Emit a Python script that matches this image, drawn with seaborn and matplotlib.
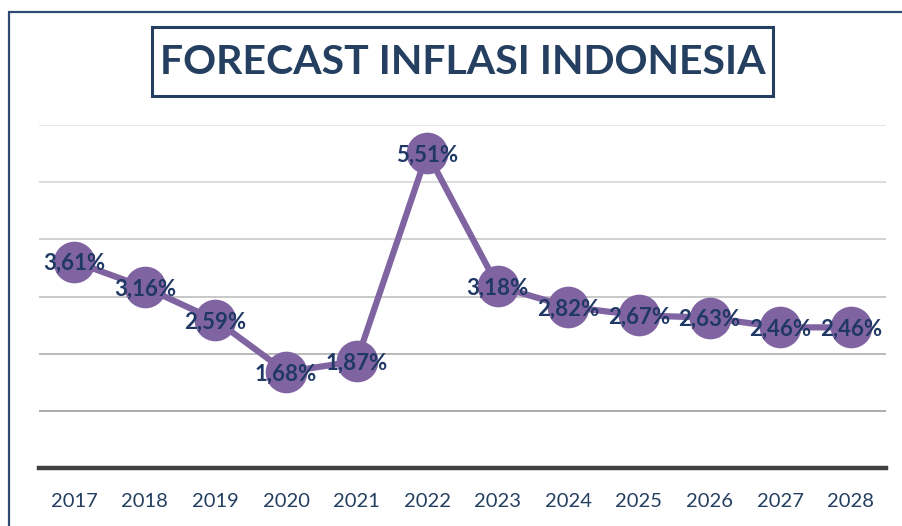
import matplotlib
matplotlib.use("Agg")
import matplotlib.pyplot as plt
import seaborn as sns
import pandas as pd
from matplotlib.patches import Rectangle

years = ["2017", "2018", "2019", "2020", "2021", "2022", "2023", "2024", "2025", "2026", "2027", "2028"]
inflation = [3.61, 3.16, 2.59, 1.68, 1.87, 5.51, 3.18, 2.82, 2.67, 2.63, 2.46, 2.46]
labels = ["3,61%", "3,16%", "2,59%", "1,68%", "1,87%", "5,51%", "3,18%", "2,82%", "2,67%", "2,63%", "2,46%", "2,46%"]
title = "FORECAST INFLASI INDONESIA"

df = pd.DataFrame({"year": years, "value": inflation})

sns.set_theme(style="white")
plt.rcParams['font.family'] = ['Lato', 'DejaVu Sans']

W, H = 902, 526
fig = plt.figure(figsize=(W / 100, H / 100), dpi=100)
ax = fig.add_axes([39 / W, (H - 468) / H, (886 - 39) / W, (468 - 125) / H])

purple = "#8064A2"
navy = "#1F3864"

sns.lineplot(data=df, x="year", y="value", ax=ax, color=purple, linewidth=4.5,
             marker="o", markersize=30, markeredgewidth=0, sort=False, zorder=3)

for i, (v, lab) in enumerate(zip(inflation, labels)):
    ax.text(i, v, lab, ha="center", va="center_baseline", fontsize=16,
            fontweight="bold", color=navy, zorder=5)

ax.set_xlim(-0.5, len(years) - 0.5)
ax.set_ylim(0, 6)
ax.set_yticks([1, 2, 3, 4, 5, 6])
ax.set_yticklabels([])
ax.tick_params(axis="y", length=0)
ax.yaxis.grid(True, linewidth=1.3)
grid_cols = ["#a6a6a6", "#b4b4b4", "#c4c4c4", "#cfcfcf", "#d9d9d9", "#e4e4e4"]
for gl, c in zip(ax.get_ygridlines(), grid_cols):
    gl.set_color(c)
ax.set_axisbelow(True)
for s in ["left", "right", "top"]:
    ax.spines[s].set_visible(False)
ax.spines["bottom"].set_color("#404040")
ax.spines["bottom"].set_linewidth(3.2)
ax.spines["bottom"].set_zorder(4)
ax.set_xlabel("")
ax.set_ylabel("")
ax.tick_params(axis="x", length=0, pad=18, labelsize=14.5, labelcolor="#243F60")

# outer chart border
fig.patches.append(Rectangle((9 / W, -0.2), 1.2, (H - 12) / H + 0.2, transform=fig.transFigure,
                             fill=False, edgecolor="#2F4B73", linewidth=1.6, zorder=10))
# title box
fig.patches.append(Rectangle((152 / W, (H - 96) / H), (773 - 152) / W, (96 - 27) / H,
                             transform=fig.transFigure, fill=False, edgecolor="#243F60",
                             linewidth=2.2, zorder=10))
fig.text(463 / W, (H - 62) / H, title, ha="center", va="center", fontsize=29.5,
         fontweight="bold", color="#243F60")

fig.savefig("out.png", dpi=100)
